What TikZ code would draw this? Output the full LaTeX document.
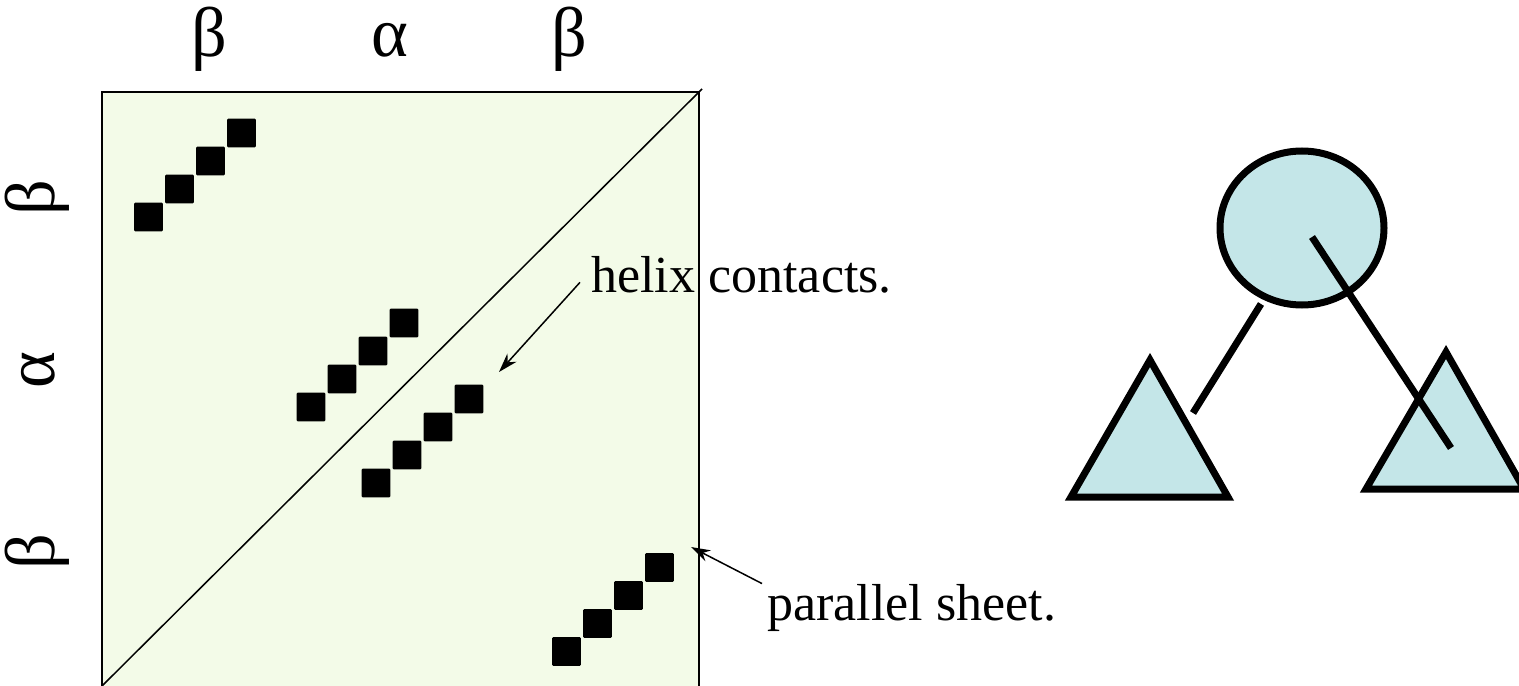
\documentclass[tikz,border=0pt]{standalone}
\usepackage{fontspec}
\setmainfont{Liberation Serif}
\usetikzlibrary{arrows.meta}
\definecolor{plotfill}{RGB}{243,251,232}
\definecolor{treefill}{RGB}{196,230,232}

\begin{document}
\begin{tikzpicture}[x=0.02cm,y=-0.02cm,
    lbl/.style={font=\fontsize{29.6}{34}\selectfont},
    greek/.style={font=\fontsize{40}{46}\selectfont, anchor=base, inner sep=0pt},
    contact/.style={fill=black, rounded corners=0.5pt},
    tree/.style={line width=7*0.02cm, fill=treefill},
    stick/.style={line width=7*0.02cm}]
        % 1 unit = 1 pixel of the original, y downwards
        \useasboundingbox (0,0) rectangle (1519,686);

        % contact map
        \coordinate (BL) at (102,686);
        \coordinate (TR) at (699,92);
        \fill[plotfill] (102,92) rectangle (699,700);
        \draw[line width=2*0.02cm] (102,700) -- (102,92) -- (699,92) -- (699,700);
        \draw[line width=1.5*0.02cm] (BL) -- (702,89);

        % Squares: four in a row, one group per contact
        \foreach \gx/\gy in {148.5/217, 311/407, 376/483, 566.5/651.5}
          \foreach \k in {0,...,3}
            \fill[contact] (\gx+31*\k-14.3,\gy-28*\k-14.3) rectangle ++(28.6,28.6);

        % Labels on the axes
        \node[greek] (ctop1) at (209,57) {β};
        \node[greek] (ctop2) at (390,57) {α};
        \node[greek] (ctop3) at (569,57) {β};
        \node[greek, rotate=90] (rside1) at (54,198) {β};
        \node[greek, rotate=90] (rside2) at (54,370) {α};
        \node[greek, rotate=90] (rside3) at (54,552) {β};

        % Annotations
        \node[lbl, anchor=base west, inner sep=0pt] (helix) at (591,292) {helix contacts.};
        \node[lbl, anchor=base west, inner sep=0pt] (sheet) at (767,620) {parallel sheet.};
        \coordinate (helixtip) at (499,372);
        \coordinate (sheettip) at (691,547);
        \draw[-{Stealth[length=11pt,width=7pt]}, line width=1.5*0.02cm]
          ([xshift=-11*0.02cm, yshift=-8*0.02cm]helix.west) -- (helixtip);
        \draw[-{Stealth[length=11pt,width=7pt]}, line width=1.5*0.02cm]
          ([xshift=-5*0.02cm]sheet.north west) -- (sheettip);

        % Tree: domain and two subunits
        \coordinate (root) at (1302,228);
        \draw[tree] (root) ellipse [x radius=82, y radius=77];
        \draw[tree] (1150,360) -- (1228,497) -- (1071,497) -- cycle;
        \draw[tree] (1446,352) -- (1524,489) -- (1366,489) -- cycle;
        \draw[stick] (1261,304) -- (1193,413);
        \draw[stick] (1312,237) -- (1451,448);
    \end{tikzpicture}
\end{document}
